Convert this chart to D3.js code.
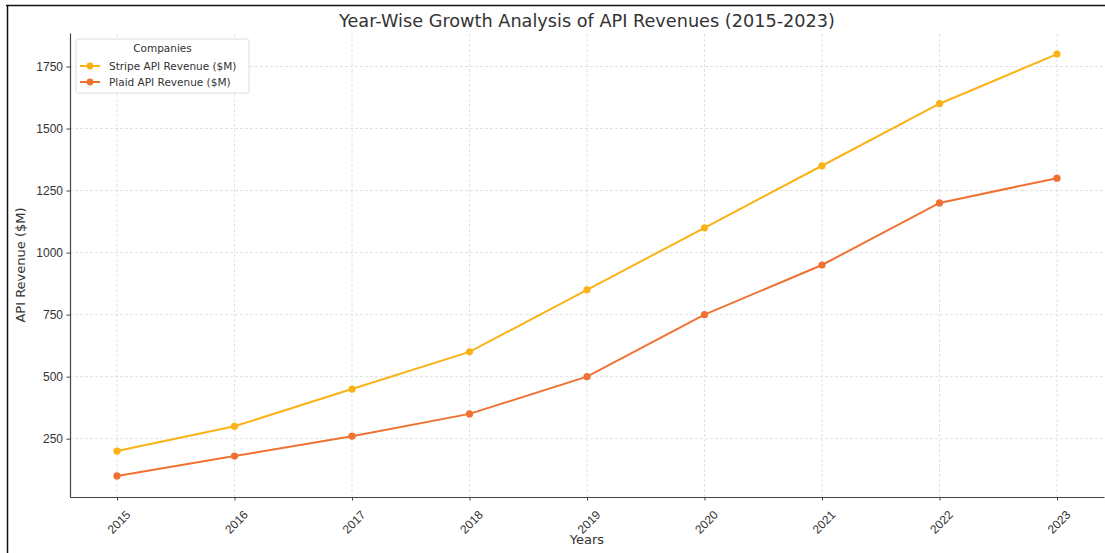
<!DOCTYPE html>
<html lang="en">
<head>
    <meta charset="UTF-8">
    <title>API Revenues</title>
    <script src="https://cdn.jsdelivr.net/npm/d3@7/dist/d3.min.js"></script>
    <style type="text/css">
        body { margin: 0; background: #fff; }
        svg { font-family: "DejaVu Sans", sans-serif; }
        .grid line { stroke: #dadada; stroke-dasharray: 3,2; stroke-width: 0.8; }
        .axis path, .axis line { stroke: #444; }
        .axis text { fill: #333; font-size: 12px; }
    </style>
</head>
<body>
<svg id="chart"></svg>
<script>
    // Data
    var years = [2015, 2016, 2017, 2018, 2019, 2020, 2021, 2022, 2023];
    var stripe = [200, 300, 450, 600, 850, 1100, 1350, 1600, 1800];
    var plaid = [100, 180, 260, 350, 500, 750, 950, 1200, 1300];
    var yTicks = [250, 500, 750, 1000, 1250, 1500, 1750];
    var seriesNames = ["Stripe API Revenue ($M)", "Plaid API Revenue ($M)"];
    var seriesColors = ["#fbb217", "#f07233"];

    var width = 1105, height = 553;
    var margin = {left: 70, right: 1, top: 33, bottom: 56};

    var svg = d3.select("#chart").attr("width", width).attr("height", height);

    // screenshot frame
    svg.append("line").attr("x1", 6).attr("x2", width).attr("y1", 5.5).attr("y2", 5.5)
        .attr("stroke", "#111").attr("stroke-width", 1.5);
    svg.append("line").attr("x1", 7.5).attr("x2", 7.5).attr("y1", 5).attr("y2", height)
        .attr("stroke", "#111").attr("stroke-width", 1.5);

    var x = d3.scaleLinear()
        .domain([2015 - 0.4, 2023 + 0.4])
        .range([margin.left, width - margin.right]);

    var lo = 100, hi = 1800, pad = (hi - lo) * 0.05;
    var y = d3.scaleLinear()
        .domain([lo - pad, hi + pad])
        .range([height - margin.bottom, margin.top]);

    // grid
    svg.append("g").attr("class", "grid")
        .selectAll("line.v").data(years).enter().append("line")
        .attr("x1", function (d) { return x(d); })
        .attr("x2", function (d) { return x(d); })
        .attr("y1", y.range()[0]).attr("y2", y.range()[1]);
    svg.append("g").attr("class", "grid")
        .selectAll("line.h").data(yTicks).enter().append("line")
        .attr("x1", x.range()[0]).attr("x2", x.range()[1])
        .attr("y1", function (d) { return y(d); })
        .attr("y2", function (d) { return y(d); });

    // axes
    var xAxis = svg.append("g").attr("class", "axis")
        .attr("transform", "translate(0," + y.range()[0] + ")")
        .call(d3.axisBottom(x).tickValues(years).tickFormat(d3.format("d")).tickSize(3.5).tickSizeOuter(0));
    xAxis.select(".domain").attr("stroke-width", 1.2);
    xAxis.selectAll(".tick text")
        .attr("text-anchor", "end")
        .attr("dx", "-0.1em").attr("dy", "0.6em")
        .attr("transform", "translate(5,8) rotate(-45)");

    var yAxis = svg.append("g").attr("class", "axis")
        .attr("transform", "translate(" + x.range()[0] + ",0)")
        .call(d3.axisLeft(y).tickValues(yTicks).tickFormat(d3.format("d")).tickSize(3.5).tickSizeOuter(0));
    yAxis.select(".domain").attr("stroke-width", 1.2);
    yAxis.selectAll("text").attr("font-size", 13).attr("x", -7);

    // lines
    var allSeries = [stripe, plaid];
    var line = d3.line()
        .x(function (d, i) { return x(years[i]); })
        .y(function (d) { return y(d); });

    allSeries.forEach(function (s, k) {
        svg.append("path").datum(s)
            .attr("fill", "none")
            .attr("stroke", seriesColors[k])
            .attr("stroke-width", 2)
            .attr("d", line);
        svg.selectAll("circle.s" + k).data(s).enter().append("circle")
            .attr("class", "s" + k)
            .attr("cx", function (d, i) { return x(years[i]); })
            .attr("cy", function (d) { return y(d); })
            .attr("r", 3.6)
            .attr("fill", seriesColors[k]);
    });

    // titles
    svg.append("text").attr("x", (x.range()[0] + x.range()[1]) / 2).attr("y", 27)
        .attr("text-anchor", "middle").attr("font-size", 18).attr("fill", "#333")
        .attr("textLength", 496).attr("lengthAdjust", "spacingAndGlyphs")
        .text("Year-Wise Growth Analysis of API Revenues (2015-2023)");
    svg.append("text").attr("x", (x.range()[0] + x.range()[1]) / 2).attr("y", 544)
        .attr("text-anchor", "middle").attr("font-size", 13).attr("fill", "#333")
        .text("Years");
    svg.append("text").attr("transform", "translate(25," + ((y.range()[0] + y.range()[1]) / 2) + ") rotate(-90)")
        .attr("text-anchor", "middle").attr("font-size", 13).attr("fill", "#333")
        .text("API Revenue ($M)");

    // legend
    var lg = svg.append("g").attr("transform", "translate(76,39)");
    lg.append("rect").attr("width", 173).attr("height", 54).attr("rx", 2)
        .attr("fill", "#fff").attr("fill-opacity", 0.85)
        .attr("stroke", "#ddd");
    lg.append("text").attr("x", 86.5).attr("y", 13).attr("text-anchor", "middle")
        .attr("font-size", 10.5).attr("fill", "#333").text("Companies");
    seriesNames.forEach(function (name, k) {
        var cy = 27 + k * 16;
        lg.append("line").attr("x1", 4).attr("x2", 24).attr("y1", cy).attr("y2", cy)
            .attr("stroke", seriesColors[k]).attr("stroke-width", 2);
        lg.append("circle").attr("cx", 14).attr("cy", cy).attr("r", 3.4).attr("fill", seriesColors[k]);
        lg.append("text").attr("x", 33).attr("y", cy + 4).attr("font-size", 10.5)
            .attr("fill", "#333").text(name);
    });
</script>
</body>
</html>
